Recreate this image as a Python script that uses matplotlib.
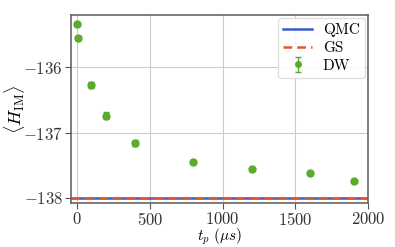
import matplotlib
matplotlib.use('Agg')
import matplotlib.pyplot as plt

plt.rcParams['font.family'] = 'serif'
plt.rcParams['font.serif'] = ['cmr10']
plt.rcParams['mathtext.fontset'] = 'cm'
plt.rcParams['axes.formatter.use_mathtext'] = True

# data
tp = [0, 10, 100, 200, 400, 800, 1200, 1600, 1900]
dw = [-135.33, -135.55, -136.27, -136.74, -137.16, -137.45, -137.56, -137.62, -137.74]
dw_err = [0.03, 0.03, 0.05, 0.05, 0.04, 0.03, 0.03, 0.03, 0.02]
qmc = -138.0
gs = -138.0

fig, ax = plt.subplots(figsize=(3.95, 2.47), dpi=100)
fig.subplots_adjust(left=0.18, right=0.932, top=0.939, bottom=0.178)

ax.axhline(qmc, color='#3b5ccb', lw=1.8, label='QMC')
ax.axhline(gs, color='#e8572a', lw=1.8, ls=(0, (3.5, 2)), label='GS')
ax.errorbar(tp, dw, yerr=dw_err, fmt='o', color='#5aab2e', ms=5,
            capsize=2, elinewidth=1, label='DW')

ax.set_xlim(-40, 2000)
ax.set_ylim(-138.08, -135.2)
ax.set_xticks([0, 500, 1000, 1500, 2000])
ax.set_yticks([-136, -137, -138])
ax.grid(True, color='#cccccc', lw=0.8)
ax.set_axisbelow(True)
for s in ax.spines.values():
    s.set_color('#666666')
    s.set_linewidth(1.2)
ax.tick_params(labelsize=12, colors='#333333', length=4, color='#555555', pad=2)
ax.set_xlabel(r'$t_p\ (\mu s)$', fontsize=11)
ax.set_ylabel(r'$\langle H_{\mathrm{IM}} \rangle$', fontsize=13)
ax.xaxis.set_label_coords(0.5, -0.127)
ax.yaxis.set_label_coords(-0.15, 0.5)

ax.legend(loc='upper right', fontsize=11, framealpha=0.9, edgecolor='#dddddd',
          borderpad=0.35, handlelength=1.9, labelspacing=0.25,
          borderaxespad=0.2, handletextpad=0.7, markerscale=0.8)

fig.savefig('out.png', dpi=100)
